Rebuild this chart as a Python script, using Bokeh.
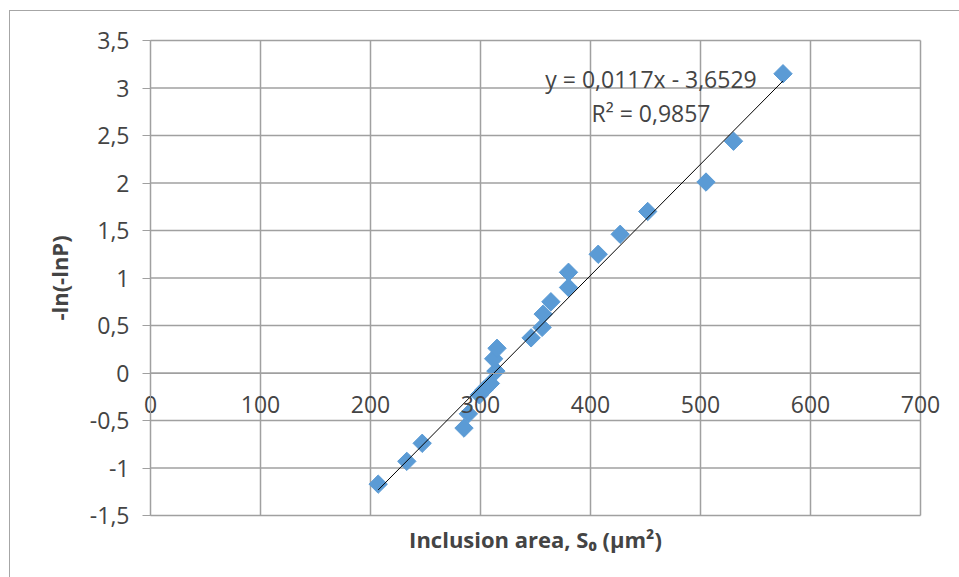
import numpy as np
from bokeh.plotting import figure
from bokeh.models import Range1d, FixedTicker, CustomJSTickFormatter, LinearAxis, Label
from bokeh.embed import file_html
from bokeh.resources import INLINE

# data
area = [207, 233, 247, 285, 289, 299, 303, 309, 314, 312, 315, 346, 356, 357, 364,
        380, 380, 407, 427, 452, 505, 530, 575]
lnlnp = [-1.17, -0.93, -0.74, -0.58, -0.43, -0.23, -0.18, -0.11, 0.02, 0.15, 0.26,
         0.37, 0.48, 0.62, 0.75, 0.90, 1.06, 1.25, 1.46, 1.70, 2.01, 2.44, 3.15]
slope = 0.0117
intercept = -3.6529
eq_text = "y = 0,0117x - 3,6529"
r2_text = "R² = 0,9857"
x_ticks = [0, 100, 200, 300, 400, 500, 600, 700]
y_ticks = [-1.5, -1.0, -0.5, 0.0, 0.5, 1.0, 1.5, 2.0, 2.5, 3.0, 3.5]
x_title = "Inclusion area, S\u2080 (\u00b5m\u00b2)"
y_title = "-ln(-lnP)"

FONT = "Open Sans"
FS = "23px"
GRID = "#a0a0a0"

# layout geometry (screen pixels)
W, H = 950, 567
CX0, CY0 = 10, 11            # canvas origin in window
PL, PR, PT, PB = 150, 920, 40, 515   # plot area in window
XMIN, XMAX, YMIN, YMAX = 0, 700, -1.5, 3.5
sx = (PR - PL) / (XMAX - XMIN)
sy = (PB - PT) / (YMAX - YMIN)
x_lo = XMIN - (PL - CX0) / sx
x_hi = XMAX + (CX0 + W - PR) / sx
y_hi = YMAX + (PT - CY0) / sy
y_lo = YMIN - (CY0 + H - PB) / sy

p = figure(width=W, height=H, x_range=Range1d(x_lo, x_hi), y_range=Range1d(y_lo, y_hi),
           output_backend="svg", toolbar_location=None,
           min_border_left=0, min_border_right=0, min_border_top=0, min_border_bottom=0,
           x_axis_location=None, y_axis_location=None)
p.styles = {"border-left": "1px solid #a6a6a6", "border-top": "1px solid #a6a6a6",
            "margin-left": "9px", "margin-top": "10px"}
p.outline_line_color = None
p.background_fill_color = "white"
p.border_fill_color = "white"
p.xgrid.visible = False
p.ygrid.visible = False

# gridlines limited to the plot area
p.segment(x0=x_ticks, y0=[YMIN] * len(x_ticks), x1=x_ticks, y1=[YMAX] * len(x_ticks),
          line_color=GRID, line_width=1.5)
p.segment(x0=[XMIN] * len(y_ticks), y0=y_ticks, x1=[XMAX] * len(y_ticks), y1=y_ticks,
          line_color=GRID, line_width=1.5)

fmt = CustomJSTickFormatter(code="return String(tick).replace('.', ',');")

# y axis at x = 0
yax = LinearAxis(ticker=FixedTicker(ticks=y_ticks), formatter=fmt, fixed_location=0)
yax.major_label_text_font = FONT
yax.major_label_text_font_size = FS
yax.major_label_standoff = 13
yax.major_tick_out = 8
yax.major_tick_in = 0
yax.minor_tick_out = 0
yax.minor_tick_in = 0
yax.axis_line_color = GRID
yax.major_tick_line_color = GRID
yax.bounds = (YMIN, YMAX)
p.add_layout(yax, "left")

# x axis crossing at y = 0
xax = LinearAxis(ticker=FixedTicker(ticks=x_ticks), formatter=fmt, fixed_location=0)
xax.major_label_text_font = FONT
xax.major_label_text_font_size = FS
xax.major_label_standoff = 17
xax.major_tick_out = 6
xax.major_tick_in = 0
xax.minor_tick_out = 0
xax.minor_tick_in = 0
xax.axis_line_color = GRID
xax.major_tick_line_color = GRID
xax.bounds = (XMIN, XMAX)
p.add_layout(xax, "below")

# axis titles
p.add_layout(Label(x=(XMIN + XMAX) / 2, y=YMIN - (538 - PB) / sy, text=x_title,
                   text_font=FONT, text_font_size="22px", text_font_style="bold",
                   text_align="center", text_baseline="middle"))
p.add_layout(Label(x=XMIN - (PL - 58) / sx, y=(YMIN + YMAX) / 2, text=y_title, angle=np.pi / 2,
                   text_font=FONT, text_font_size="22px", text_font_style="bold",
                   text_align="center", text_baseline="middle"))

# points
p.scatter(area, lnlnp, marker="square", size=13, angle=np.pi / 4,
          fill_color="#5b9bd5", line_color="#5b9bd5")

# trend line
xs = [min(area), max(area)]
ys = [slope * v + intercept for v in xs]
p.line(xs, ys, line_color="black", line_width=1)

p.add_layout(Label(x=455, y=3.1, text=eq_text, text_font=FONT, text_font_size=FS,
                   text_align="center", text_baseline="middle"))
p.add_layout(Label(x=455, y=2.74, text=r2_text, text_font=FONT, text_font_size=FS,
                   text_align="center", text_baseline="middle"))

open("out.html", "w").write(file_html(p, INLINE))
